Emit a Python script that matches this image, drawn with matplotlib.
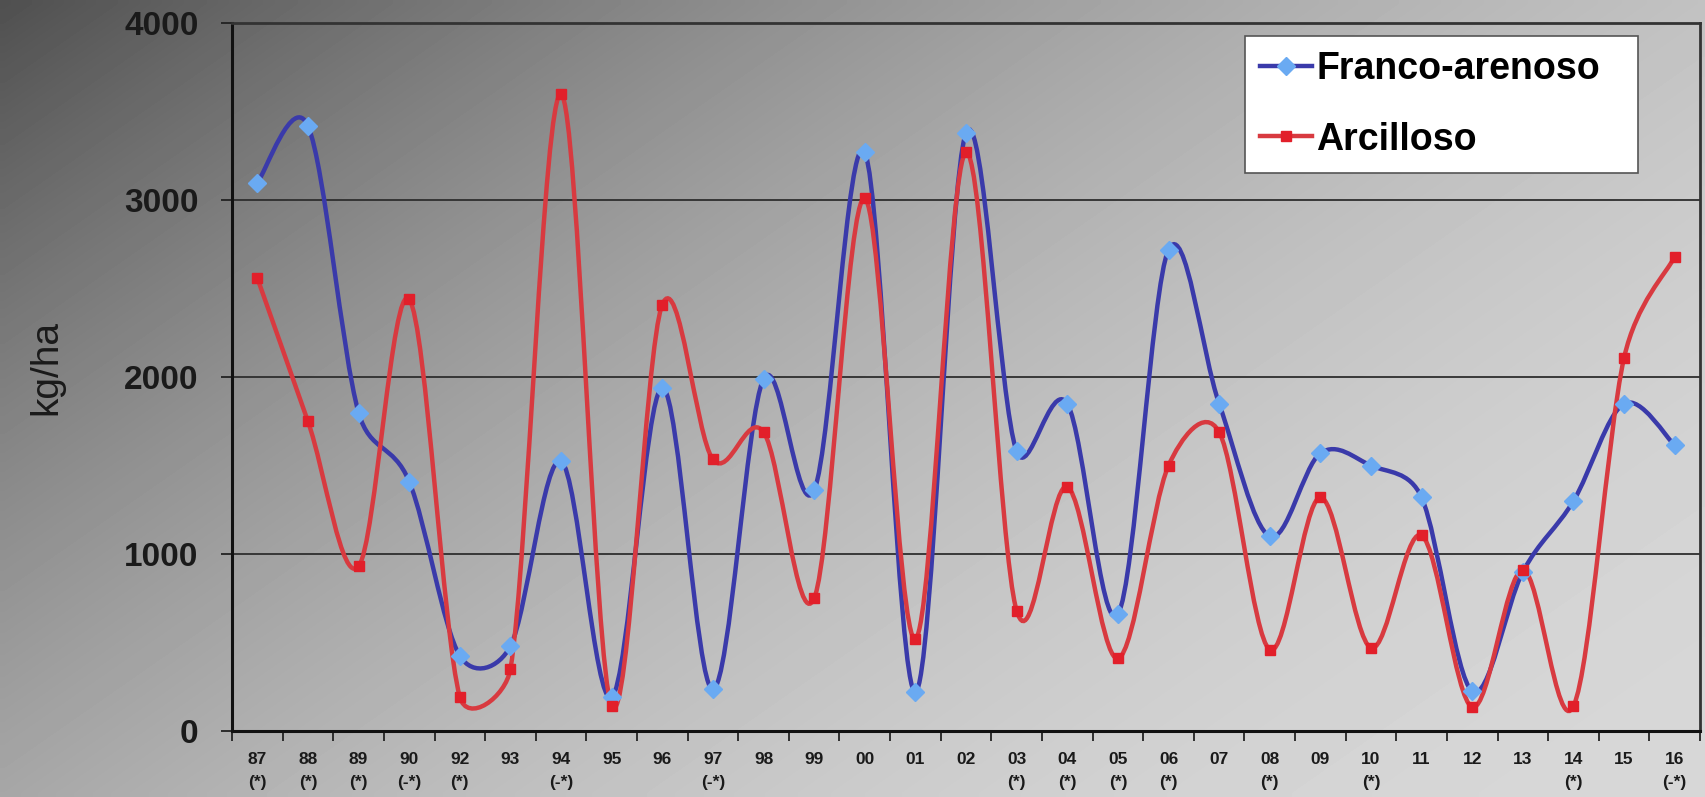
import matplotlib
matplotlib.use("Agg")
import matplotlib.pyplot as plt
import numpy as np
from matplotlib.path import Path
from matplotlib.patches import PathPatch
from matplotlib.lines import Line2D

# ---- datos ----
anios = ['87', '88', '89', '90', '92', '93', '94', '95', '96', '97', '98', '99', '00', '01', '02',
         '03', '04', '05', '06', '07', '08', '09', '10', '11', '12', '13', '14', '15', '16']
notas = ['(*)', '(*)', '(*)', '(-*)', '(*)', '', '(-*)', '', '', '(-*)', '', '', '', '', '',
         '(*)', '(*)', '(*)', '(*)', '', '(*)', '', '(*)', '', '', '', '(*)', '', '(-*)']
franco_arenoso = [3100, 3420, 1800, 1410, 425, 480, 1525, 190, 1940, 235, 1990, 1360, 3270, 220, 3380,
                  1580, 1850, 660, 2720, 1850, 1100, 1570, 1500, 1320, 225, 900, 1300, 1850, 1615]
arcilloso = [2560, 1750, 930, 2440, 193, 350, 3600, 140, 2410, 1535, 1690, 750, 3010, 520, 3270,
             680, 1380, 410, 1500, 1690, 460, 1320, 470, 1105, 135, 910, 140, 2110, 2680]

plt.rcParams['font.family'] = ['Liberation Sans', 'DejaVu Sans']

AZUL_LINEA = '#3a3aaa'
AZUL_MARCA = '#6aaaf2'
ROJO_LINEA = '#d83a40'
ROJO_MARCA = '#e21f2a'

ANCHO, ALTO = 17.06, 7.97
POS_EJES = [0.136, 0.0828, 0.8605, 0.888]


def curva_suave(xs, ys, sx, sy):
    # suavizado tipo Excel: Bezier cubico (Catmull-Rom 1/6) limitando cada punto
    # de control a la mitad del tramo vecino (distancias en pixeles)
    pts = np.column_stack([xs, ys]).astype(float)
    esc = np.array([sx, sy])
    n = len(pts)

    def dist(a, b):
        return np.hypot(*((b - a) * esc))

    verts = [pts[0]]
    codes = [Path.MOVETO]
    for i in range(n - 1):
        p0 = pts[max(i - 1, 0)]
        p1 = pts[i]
        p2 = pts[i + 1]
        p3 = pts[min(i + 2, n - 1)]
        d12 = dist(p1, p2)
        t1 = dist(p0, p2)
        t2 = dist(p1, p3)
        f1 = min(1 / 6, d12 / (2 * t1)) if t1 > 0 else 0
        f2 = min(1 / 6, d12 / (2 * t2)) if t2 > 0 else 0
        c1 = p1 + (p2 - p0) * f1
        c2 = p2 - (p3 - p1) * f2
        verts += [c1, c2, p2]
        codes += [Path.CURVE4] * 3
    return Path(verts, codes)


fig = plt.figure(figsize=(ANCHO, ALTO), dpi=100)

# fondo degradado gris (oscuro arriba a la izquierda, claro abajo a la derecha)
fondo = fig.add_axes([0, 0, 1, 1], zorder=-10)
gx, gy = np.meshgrid(np.linspace(0, 1, 200), np.linspace(0, 1, 100))
d = np.clip(0.6 * gx + 0.4 * gy, 0, 1)
fondo.imshow(80 + 135 * (1 - (1 - d) ** 2), cmap='gray', vmin=0, vmax=255,
             interpolation='bilinear', extent=[0, 1, 0, 1], aspect='auto', origin='upper')
fondo.axis('off')

ax = fig.add_axes(POS_EJES)
ax.set_facecolor('none')

x = np.arange(len(anios))
ymax = 4000
ax.set_xlim(-0.5, len(anios) - 0.5)
ax.set_ylim(0, ymax)

sx = POS_EJES[2] * ANCHO * 100 / len(anios)
sy = POS_EJES[3] * ALTO * 100 / ymax

ax.add_patch(PathPatch(curva_suave(x, franco_arenoso, sx, sy), fill=False,
                       edgecolor=AZUL_LINEA, lw=3.2, zorder=3))
ax.add_patch(PathPatch(curva_suave(x, arcilloso, sx, sy), fill=False,
                       edgecolor=ROJO_LINEA, lw=3.2, zorder=4))
ax.plot(x, franco_arenoso, linestyle='none', marker='D', ms=9, mfc=AZUL_MARCA,
        mec=AZUL_MARCA, zorder=5)
ax.plot(x, arcilloso, linestyle='none', marker='s', ms=7, mfc=ROJO_MARCA,
        mec=ROJO_MARCA, zorder=6)

# eje Y
ax.set_yticks([0, 1000, 2000, 3000, 4000])
ax.tick_params(axis='y', which='major', direction='out', length=8, width=1.3,
               labelsize=24, pad=16, color='#222222')
for lab in ax.get_yticklabels():
    lab.set_fontweight('bold')
    lab.set_color('#1a1a1a')
ax.yaxis.grid(True, color='#2e2e2e', lw=1.3)
ax.set_axisbelow(True)

ax.set_ylabel('kg/ha', fontsize=28, color='#1a1a1a')
ax.yaxis.set_label_coords(-0.114, 0.514)

# eje X: marcas entre categorias, etiquetas centradas
ax.set_xticks(np.arange(-0.5, len(anios), 1.0))
ax.set_xticklabels([])
ax.set_xticks(x, minor=True)
ax.set_xticklabels([a + '\n' + n for a, n in zip(anios, notas)], minor=True,
                   fontsize=12.5, fontweight='bold', linespacing=1.65, va='top')
ax.tick_params(axis='x', which='major', direction='out', length=7, width=1.3, color='#222222')
ax.tick_params(axis='x', which='minor', length=0, pad=15, labelcolor='#1a1a1a')

for lado in ['left', 'bottom']:
    ax.spines[lado].set_color('#111111')
    ax.spines[lado].set_linewidth(2.2)
for lado in ['top', 'right']:
    ax.spines[lado].set_color('#333333')
    ax.spines[lado].set_linewidth(2.0)

# leyenda (caja de ancho fijo)
manejadores = [
    Line2D([], [], color=AZUL_LINEA, lw=3.2, marker='D', ms=9, mfc=AZUL_MARCA, mec=AZUL_MARCA),
    Line2D([], [], color=ROJO_LINEA, lw=3.2, marker='s', ms=7, mfc=ROJO_MARCA, mec=ROJO_MARCA),
]
leg = ax.legend(manejadores, ['Franco-arenoso', 'Arcilloso'], loc='upper left',
                bbox_to_anchor=(0.690, 0.5, 0.268, 0.482), mode='expand', frameon=True,
                fancybox=False, handlelength=1.4, handletextpad=0.1, labelspacing=0.92,
                borderpad=0.4, borderaxespad=0, prop={'weight': 'bold', 'size': 27})
leg.get_frame().set_facecolor('white')
leg.get_frame().set_edgecolor('#555555')
leg.get_frame().set_linewidth(1.2)
leg.get_frame().set_alpha(1)
leg.set_zorder(10)

fig.savefig('out.png', dpi=100)
